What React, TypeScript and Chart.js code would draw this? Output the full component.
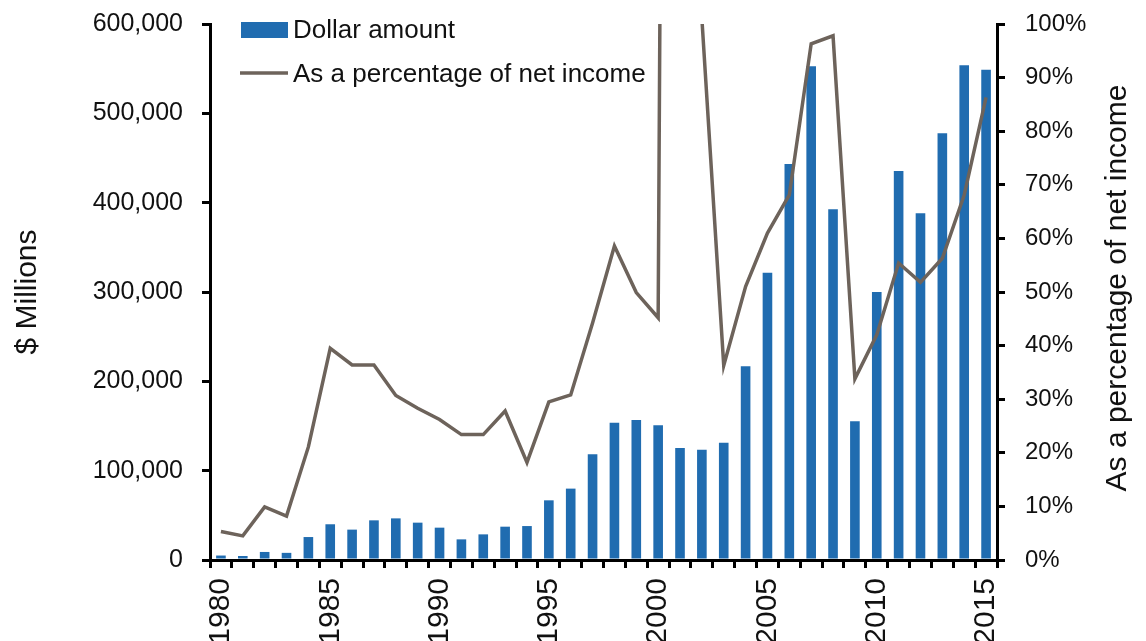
import React, { useEffect, useRef } from 'react';
import { Chart, registerables } from 'chart.js';

Chart.register(...registerables);

const years = [
  '1980', '1981', '1982', '1983', '1984', '1985', '1986', '1987', '1988', '1989',
  '1990', '1991', '1992', '1993', '1994', '1995', '1996', '1997', '1998', '1999',
  '2000', '2001', '2002', '2003', '2004', '2005', '2006', '2007', '2008', '2009',
  '2010', '2011', '2012', '2013', '2014', '2015',
];

const dollarAmount = [
  5000, 4500, 9000, 8000, 25700, 40000, 34000, 44400, 46600, 41800,
  36200, 23100, 28700, 37300, 38000, 66800, 79900, 118300, 153700, 156700,
  150700, 125400, 123500, 131300, 216800, 321600, 443300, 552600, 392600, 155200,
  300000, 435400, 388100, 477600, 553700, 548900,
];

const pctOfNetIncome = [
  5.3, 4.5, 9.9, 8.2, 21.1, 39.5, 36.4, 36.4, 30.7, 28.3,
  26.2, 23.4, 23.4, 27.8, 18.2, 29.5, 30.8, 44.2, 58.6, 49.9,
  45.2, 750, 101, 36.3, 51, 61, 68.1, 96.3, 97.8, 33.8,
  42, 55.4, 51.8, 56.3, 68.1, 86.3,
];

const shownYearLabels = ['1980', '1985', '1990', '1995', '2000', '2005', '2010', '2015'];
const legendLabels = ['Dollar amount', 'As a percentage of net income'];
const leftTitle = '$ Millions';
const rightTitle = 'As a percentage of net income';

const BAR = '#206CB0';
const LINE = '#6D635B';
const TEXT = '#111111';
const FONT = '"Liberation Sans", Arial, sans-serif';

export default function App() {
  const ref = useRef<HTMLCanvasElement>(null);

  useEffect(() => {
    if (!ref.current) return;

    const overlay = {
      id: 'overlay',
      afterDraw(chart: any) {
        const ctx = chart.ctx as CanvasRenderingContext2D;
        const area = chart.chartArea;
        ctx.save();
        // legend
        const lx = area.left + 31;
        ctx.fillStyle = BAR;
        ctx.fillRect(lx, 22, 47, 16);
        ctx.strokeStyle = LINE;
        ctx.lineWidth = 3.5;
        ctx.beginPath();
        ctx.moveTo(lx - 1, 73);
        ctx.lineTo(lx + 47, 73);
        ctx.stroke();
        ctx.fillStyle = TEXT;
        ctx.font = `26px ${FONT}`;
        ctx.textAlign = 'left';
        ctx.textBaseline = 'alphabetic';
        ctx.fillText(legendLabels[0], lx + 52, 37.5);
        ctx.fillText(legendLabels[1], lx + 52, 82);

        // axis titles
        const cy = (area.top + area.bottom) / 2;
        ctx.font = `30px ${FONT}`;
        ctx.textAlign = 'center';
        ctx.textBaseline = 'middle';
        ctx.save();
        ctx.translate(27.5, cy);
        ctx.rotate(-Math.PI / 2);
        ctx.fillText(leftTitle, 0, 0);
        ctx.restore();
        ctx.save();
        ctx.translate(1118, cy - 4);
        ctx.rotate(-Math.PI / 2);
        ctx.fillText(rightTitle, 0, 0);
        ctx.restore();
        ctx.restore();
      },
    };

    const axisGrid = {
      drawOnChartArea: false,
      color: '#000',
      lineWidth: 3,
      tickLength: 8,
    };

    const chart = new Chart(ref.current, {
      type: 'bar',
      data: {
        labels: years,
        datasets: [
          {
            type: 'line',
            label: legendLabels[1],
            data: pctOfNetIncome,
            yAxisID: 'y1',
            borderColor: LINE,
            backgroundColor: LINE,
            borderWidth: 3.5,
            pointRadius: 0,
            tension: 0,
            order: 0,
          } as any,
          {
            type: 'bar',
            label: legendLabels[0],
            data: dollarAmount,
            yAxisID: 'y',
            backgroundColor: BAR,
            barPercentage: 0.44,
            categoryPercentage: 1,
            order: 1,
          } as any,
        ],
      },
      options: {
        responsive: false,
        animation: false,
        layout: { padding: { top: 24, left: 0, right: 0, bottom: 0 } },
        plugins: {
          legend: { display: false },
          tooltip: { enabled: false },
        },
        scales: {
          x: {
            offset: true,
            grid: { ...axisGrid, offset: true },
            border: { color: '#000', width: 3 },
            ticks: {
              autoSkip: false,
              minRotation: 90,
              maxRotation: 90,
              padding: 10,
              color: TEXT,
              font: { family: FONT, size: 30 },
              callback: (_v: any, i: number) =>
                shownYearLabels.includes(years[i]) ? years[i] : '',
            },
            afterFit: (s: any) => {
              s.height = 81;
              s.paddingLeft = 0;
              s.paddingRight = 0;
            },
          },
          y: {
            position: 'left',
            min: 0,
            max: 600000,
            grid: axisGrid,
            border: { color: '#000', width: 3 },
            ticks: {
              stepSize: 100000,
              padding: 19,
              color: TEXT,
              font: { family: FONT, size: 25 },
              callback: (v: any) => Number(v).toLocaleString('en-US'),
            },
            afterFit: (s: any) => {
              s.width = 210;
              s.paddingTop = 0;
              s.paddingBottom = 0;
            },
          },
          y1: {
            position: 'right',
            min: 0,
            max: 100,
            grid: axisGrid,
            border: { color: '#000', width: 3 },
            ticks: {
              stepSize: 10,
              padding: 20,
              color: TEXT,
              font: { family: FONT, size: 24 },
              callback: (v: any) => `${v}%`,
            },
            afterFit: (s: any) => {
              s.width = 149;
              s.paddingTop = 0;
              s.paddingBottom = 0;
            },
          },
        },
      } as any,
      plugins: [overlay],
    });

    return () => chart.destroy();
  }, []);

  return (
    <div style={{ position: 'fixed', left: 0, top: 0, width: 1146, height: 641, background: '#fff' }}>
      <canvas ref={ref} width={1146} height={641} style={{ display: 'block' }} />
    </div>
  );
}
